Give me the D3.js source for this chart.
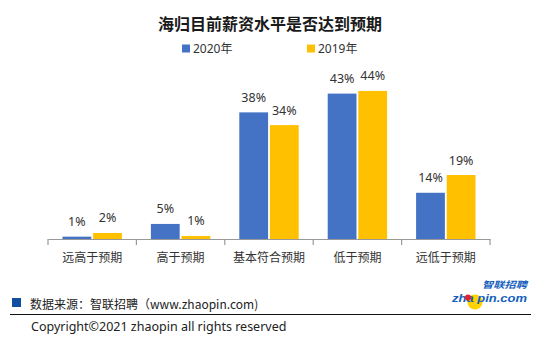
<!DOCTYPE html>
<html><head><meta charset="utf-8">
<script src="https://cdn.jsdelivr.net/npm/d3@7"></script>
<style>
html,body{margin:0;padding:0;background:#fff;}
svg{display:block;font-family:"Noto Sans","Noto Sans CJK SC",sans-serif;}
</style></head>
<body>
<svg id="c" width="541" height="338"></svg>
<script>
const categories = ["远高于预期","高于预期","基本符合预期","低于预期","远低于预期"];
const seriesNames = ["2020年","2019年"];
const values2020 = [0.7, 4.5, 37.8, 43.4, 13.8];
const values2019 = [1.8, 0.9, 34.0, 44.2, 19.1];
const colors = ["#4472C4","#FFC000"];
const title = "海归目前薪资水平是否达到预期";
const sourceText = "数据来源：智联招聘（www.zhaopin.com)";
const copyrightText = "Copyright©2021 zhaopin all rights reserved";

const svg = d3.select("#c");
const cjk = "'Noto Sans CJK SC',sans-serif";

const baseY = 239;
const x = d3.scaleBand().domain(categories).range([48, 490]).padding(0);
const x1 = d3.scaleBand().domain(seriesNames).range([14.5, x.bandwidth()-14.5]).paddingInner(0.06);
const y = d3.scaleLinear().domain([0, 50]).range([baseY, baseY - 167.5]);

// title
svg.append("text").attr("x", 270).attr("y", 30).attr("text-anchor","middle")
  .style("font-family", cjk).style("font-size","16px").style("font-weight","bold").attr("fill","#1a1a1a")
  .text(title);

// legend
const legX = [182, 307];
seriesNames.forEach((s,i)=>{
  svg.append("rect").attr("x", legX[i]).attr("y", 44.5).attr("width", 8).attr("height", 8).attr("fill", colors[i]);
  svg.append("text").attr("x", legX[i]+11).attr("y", 53).style("font-size","12px").attr("fill","#333").text(s);
});

// bars
const data = categories.map((c,i)=>({cat:c, vals:[values2020[i], values2019[i]]}));
const g = svg.append("g");
data.forEach(d=>{
  d.vals.forEach((v,j)=>{
    const bx = x(d.cat) + x1(seriesNames[j]);
    g.append("rect").attr("x", bx).attr("y", y(v)).attr("width", x1.bandwidth())
      .attr("height", baseY - y(v)).attr("fill", colors[j]);
    g.append("text").attr("x", bx + x1.bandwidth()/2).attr("y", y(v) - 10.5)
      .attr("text-anchor","middle").style("font-size","12.5px").attr("fill","#333")
      .text(Math.round(v) + "%");
  });
});

// axis
const axis = svg.append("g").attr("transform", `translate(0,${baseY})`)
  .call(d3.axisBottom(x).tickSize(0).tickPadding(14));
axis.select(".domain").attr("stroke","#999").attr("stroke-width",1.2);
axis.selectAll("text").style("font-family", cjk).style("font-size","12px").attr("fill","#333");
const bounds = categories.map(c=>x(c)).concat([x.range()[1]]);
svg.append("g").selectAll("line").data(bounds).join("line")
  .attr("x1", d=>d).attr("x2", d=>d).attr("y1", baseY).attr("y2", baseY+6)
  .attr("stroke","#999").attr("stroke-width",1.2);

// footer
svg.append("rect").attr("x", 12).attr("y", 298).attr("width", 9).attr("height", 9).attr("fill","#0F4FA0");
svg.append("text").attr("x", 30).attr("y", 309).style("font-family", cjk).style("font-size","12px").attr("fill","#222").text(sourceText);
svg.append("line").attr("x1", 10).attr("x2", 531).attr("y1", 314.5).attr("y2", 314.5).attr("stroke","#111").attr("stroke-width",1.2);
svg.append("text").attr("x", 31).attr("y", 331).style("font-size","12.5px").attr("fill","#222").text(copyrightText);

// logo
const logo = svg.append("g");
logo.append("circle").attr("cx", 475).attr("cy", 302).attr("r", 7.5).attr("fill","#FFD200");
logo.append("text").attr("x", 482).attr("y", 288).style("font-family", cjk).style("font-size","9px")
  .attr("textLength", 45).attr("lengthAdjust","spacingAndGlyphs")
  .style("font-weight","bold").style("font-style","italic").attr("fill","#1560BD").text("智联招聘");
logo.append("text").attr("x", 452).attr("y", 301.5).style("font-family","'Liberation Sans',sans-serif").style("font-size","10.5px")
  .attr("textLength", 75).attr("lengthAdjust","spacingAndGlyphs")
  .style("font-weight","bold").style("font-style","italic").attr("fill","#1560BD").text("zha pin.com");
logo.append("circle").attr("cx", 468).attr("cy", 297.5).attr("r", 3).attr("fill","#E0242A");
</script>
</body></html>
